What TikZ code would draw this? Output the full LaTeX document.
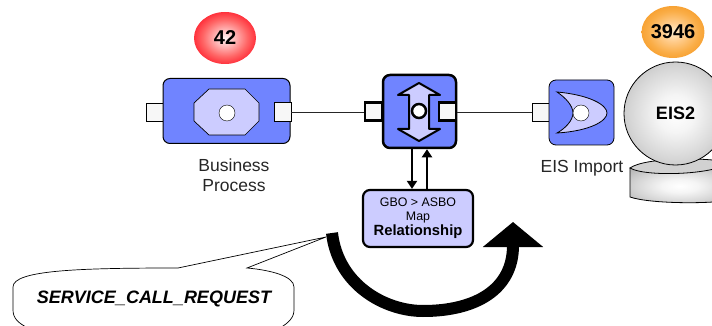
\documentclass[tikz,border=0pt]{standalone}
\usepackage{fontspec}
\setmainfont{Liberation Sans}
\usetikzlibrary{arrows.meta,shapes.geometric}
\definecolor{boxblue}{RGB}{112,132,255}
\definecolor{lilac}{RGB}{204,204,255}
\definecolor{portfill}{RGB}{247,247,247}
\pgfdeclareradialshading{redball}{\pgfpointorigin}{rgb(0bp)=(1,0.95,0.95); rgb(7bp)=(1,0.75,0.75); rgb(18bp)=(1,0.4,0.4); rgb(30bp)=(1,0.05,0.12); rgb(50bp)=(1,0.05,0.1)}
\pgfdeclareradialshading{orangeball}{\pgfpointorigin}{rgb(0bp)=(1,0.93,0.8); rgb(9bp)=(1,0.8,0.55); rgb(20bp)=(0.98,0.68,0.28); rgb(32bp)=(0.96,0.58,0.1); rgb(50bp)=(0.96,0.58,0.1)}
\pgfdeclareradialshading{greyball}{\pgfpointorigin}{rgb(0bp)=(1,1,1); rgb(9bp)=(0.96,0.96,0.96); rgb(22bp)=(0.84,0.84,0.84); rgb(35bp)=(0.7,0.7,0.7); rgb(50bp)=(0.7,0.7,0.7)}
\tikzset{
  comp/.style={draw=black,fill=boxblue,rounded corners=7pt,minimum width=#1,minimum height=#1,inner sep=0pt},
  portbox/.style={draw=black,fill=portfill,minimum width=17pt,minimum height=18pt,inner sep=0pt},
  hole/.style={circle,draw=black,fill=white,minimum size=16pt,inner sep=0pt},
  wire/.style={draw=black!85,line width=0.8pt},
  flow/.style={line width=2pt,-{Triangle[length=8pt,width=10pt]}},
  lbl/.style={font=\fontsize{17.5pt}{20pt}\selectfont,align=center,text=black!85},
  badge/.style={ellipse,minimum width=62pt,minimum height=52pt,inner sep=0pt,font=\fontsize{20pt}{24pt}\selectfont\bfseries}
}
\begin{document}
\begin{tikzpicture}[x=1pt,y=-1pt]
\useasboundingbox (0,0) rectangle (712,326);
% badges
\node[badge,shading=redball] (b42) at (225,38) {42};
\node[badge,shading=orangeball] (b3946) at (673,32) {3946};
% business process
\node[portbox] (p1l) at (154.5,112) {};
\node[comp=65pt,minimum width=127pt,line width=1pt] (bp) at (226.5,111) {};
\node[portbox,minimum height=19pt] (p1r) at (282.5,112) {};
\draw[fill=lilac,line width=0.7pt] (209,89) -- (245,89) -- (259,103) -- (259,121) -- (245,135) -- (209,135) -- (194,121) -- (194,103) -- cycle;
\node[hole] (h1) at (227,113) {};
% interface map
\node[comp=73pt,line width=2.5pt] (mid) at (419.5,111.5) {};
\node[portbox,line width=2.5pt] (p2l) at (373.5,111.5) {};
\node[portbox,line width=2.5pt] (p2r) at (447.5,111.5) {};
\draw[fill=lilac,line width=2pt,line join=round] (419,83) -- (440,95) -- (429,95) -- (429,129) -- (440,129) -- (419,141) -- (398,129) -- (409,129) -- (409,95) -- (398,95) -- cycle;
\node[hole,minimum size=14pt,line width=2.5pt] (h2) at (419,111) {};
% wires
\draw[wire] (p1r.east |- 0,112) -- (p2l.west |- 0,112);
% EIS import
\node[portbox] (p3) at (540.5,112) {};
\node[comp=65pt,line width=0.8pt] (eis) at (581.5,112.5) {};
\draw[fill=lilac,line width=0.8pt] (557,92) .. controls (590,95) and (607,105) .. (607,113) .. controls (607,121) and (590,131) .. (557,133) .. controls (566,128) and (573,120) .. (573,113) .. controls (573,106) and (566,98) .. (557,92) -- cycle;
\node[hole] (h3) at (581,113) {};
\draw[wire] (p2r.east |- 0,112) -- (p3.west |- 0,112);
% map box
\node[draw=black,fill=lilac,line width=2.2pt,rounded corners=7pt,minimum width=110pt,minimum height=57pt,inner sep=0pt,align=center,font=\fontsize{12.4pt}{14pt}\selectfont] (map) at (418,218.5) {GBO > ASBO\\Map\\[1pt]{\fontsize{14.8pt}{16pt}\selectfont\bfseries Relationship}};
\draw[flow] (mid.south -| 412,0) -- (map.north -| 412,0);
\draw[flow] (map.north -| 427,0) -- (mid.south -| 427,0);
% labels
\node[lbl] (t1) at (234,175) {Business\\Process};
\node[lbl] (t2) at (582,168) {EIS Import};
% cylinder
\draw[line width=0.8pt,shading=greyball] (630,168) -- (630,197) .. controls (650,204) and (712,204) .. (730,200) -- (730,168) -- cycle;
\draw[line width=0.8pt,fill=black!18] (630,168) .. controls (645,157) and (712,157) .. (730,163) .. controls (712,175) and (645,177) .. (630,168) -- cycle;
% sphere
\node[circle,draw=black,line width=0.8pt,minimum size=103pt,inner sep=0pt,shading=greyball,font=\fontsize{18pt}{20pt}\selectfont\bfseries] (eis2) at (675.5,113.5) {EIS2};
% big arrow
\draw[line width=12pt,-{Triangle[length=25pt,width=59pt]}] (332,233) .. controls (338,285) and (385,311) .. (423,311) .. controls (475,311) and (513,290) .. (513,222);
% callout
\coordinate (tip) at (326,237);
\draw[line width=0.7pt,fill=white] (tip) -- (178,268) .. controls (80,268) and (13,270) .. (13,287) -- (13,310) .. controls (13,318) and (18,323) .. (28,328) -- (280,328) .. controls (288,323) and (294,318) .. (294,310) -- (294,287) .. controls (294,276) and (270,270) .. (247,268) -- cycle;
\node[font=\fontsize{18pt}{20pt}\selectfont\bfseries\itshape] (req) at (154,299) {SERVICE\_CALL\_REQUEST};
\end{tikzpicture}
\end{document}
